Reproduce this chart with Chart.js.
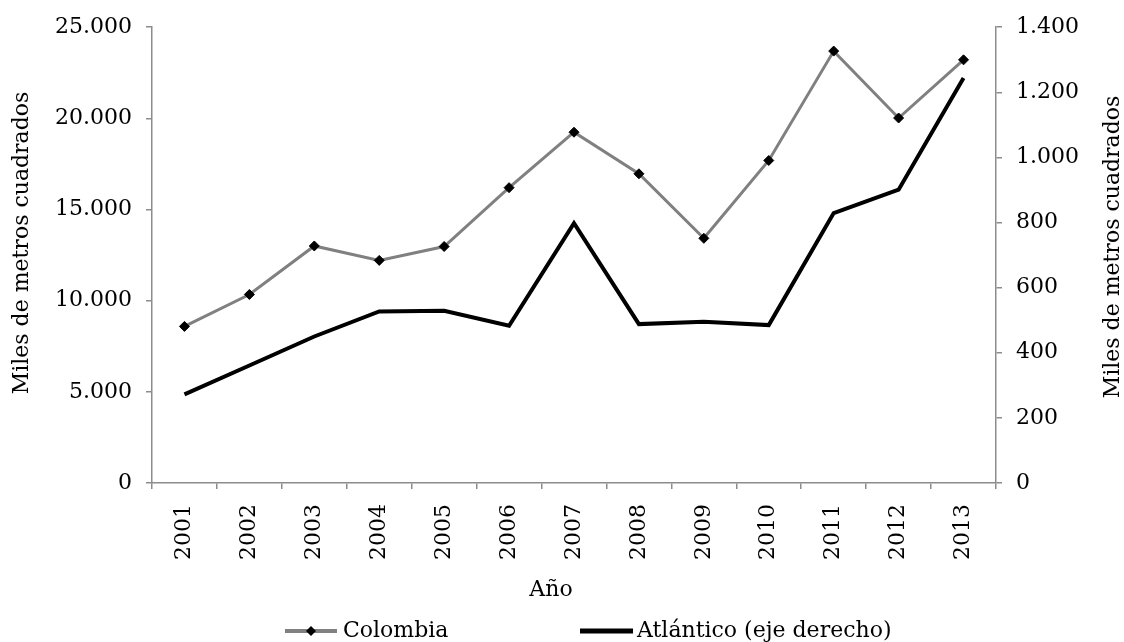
<!DOCTYPE html>
<html>
<head>
<meta charset="utf-8">
<script src="https://cdn.jsdelivr.net/npm/chart.js@4.4.1/dist/chart.umd.min.js"></script>
<style>
  html, body { margin: 0; padding: 0; background: #fff; }
</style>
</head>
<body>
<canvas id="chart" width="1124" height="642"></canvas>
<script>
const years = ['2001', '2002', '2003', '2004', '2005', '2006', '2007', '2008', '2009', '2010', '2011', '2012', '2013'];
const colombia = [8590, 10340, 13000, 12210, 12970, 16200, 19240, 16960, 13420, 17690, 23690, 20020, 23210];
const atlantico = [272, 361, 450, 527, 529, 483, 798, 488, 495, 485, 829, 901, 1244];
const leftTicks = [0, 5000, 10000, 15000, 20000, 25000];
const rightTicks = [0, 200, 400, 600, 800, 1000, 1200, 1400];

const FONT = '"DejaVu Serif", "Liberation Serif", serif';
const axisGrey = '#8c8c8c';

function fmt(v) {
    return String(v).replace(/\B(?=(\d{3})+(?!\d))/g, '.');
}

// titles and legend drawn by hand so they sit where the original has them
const extras = {
    id: 'extras',
    afterDraw(chart) {
        const ctx = chart.ctx;
        ctx.save();
        ctx.fillStyle = '#000';
        ctx.font = '22px ' + FONT;
        ctx.textAlign = 'center';
        ctx.textBaseline = 'middle';

        [[22, 243], [1113, 247]].forEach(([x, y]) => {
            ctx.save();
            ctx.translate(x, y);
            ctx.rotate(-Math.PI / 2);
            ctx.fillText('Miles de metros cuadrados', 0, 0);
            ctx.restore();
        });

        ctx.fillText('Año', 551, 590);

        // legend
        const ly = 631;
        ctx.lineCap = 'butt';
        ctx.strokeStyle = '#808080';
        ctx.lineWidth = 4;
        ctx.beginPath();
        ctx.moveTo(285, ly);
        ctx.lineTo(337, ly);
        ctx.stroke();
        ctx.beginPath();
        ctx.moveTo(311, ly - 5);
        ctx.lineTo(316, ly);
        ctx.lineTo(311, ly + 5);
        ctx.lineTo(306, ly);
        ctx.closePath();
        ctx.fill();

        ctx.strokeStyle = '#000';
        ctx.lineWidth = 5;
        ctx.beginPath();
        ctx.moveTo(580, ly);
        ctx.lineTo(633, ly);
        ctx.stroke();

        ctx.textAlign = 'left';
        ctx.fillText('Colombia', 343, ly);
        ctx.fillText('Atlántico (eje derecho)', 637, ly);
        ctx.restore();
    }
};

new Chart(document.getElementById('chart'), {
    type: 'line',
    data: {
        labels: years,
        datasets: [{
            label: 'Colombia',
            data: colombia,
            yAxisID: 'y',
            borderColor: '#808080',
            borderWidth: 3,
            pointStyle: 'rectRot',
            pointRadius: 5,
            pointBackgroundColor: '#000',
            pointBorderColor: '#000',
            pointBorderWidth: 1,
            tension: 0,
        }, {
            label: 'Atlántico (eje derecho)',
            data: atlantico,
            yAxisID: 'y1',
            borderColor: '#000',
            borderWidth: 4,
            pointRadius: 0,
            tension: 0,
        }],
    },
    options: {
        responsive: false,
        animation: false,
        layout: { padding: { top: 25, left: 0, right: 0, bottom: 0 } },
        plugins: { legend: { display: false }, tooltip: { enabled: false } },
        scales: {
            x: {
                offset: true,
                border: { color: axisGrey, width: 1.5 },
                grid: { offset: true, drawOnChartArea: false, color: axisGrey, tickLength: 6, lineWidth: 1.5 },
                ticks: {
                    color: '#000', font: { family: FONT, size: 22 },
                    minRotation: 90, maxRotation: 90, autoSkip: false, padding: 15,
                },
                afterFit: s => { s.height = 159; },
            },
            y: {
                position: 'left',
                min: leftTicks[0], max: leftTicks[leftTicks.length - 1],
                border: { color: axisGrey, width: 1.5 },
                grid: { drawOnChartArea: false, color: axisGrey, tickLength: 6, lineWidth: 1.5 },
                ticks: {
                    stepSize: leftTicks[1] - leftTicks[0],
                    color: '#000', font: { family: FONT, size: 22 }, padding: 14,
                    callback: v => fmt(v),
                },
                afterFit: s => { s.width = 152; },
            },
            y1: {
                position: 'right',
                min: rightTicks[0], max: rightTicks[rightTicks.length - 1],
                border: { color: axisGrey, width: 1.5 },
                grid: { drawOnChartArea: false, color: axisGrey, tickLength: 6, lineWidth: 1.5 },
                ticks: {
                    stepSize: rightTicks[1] - rightTicks[0],
                    color: '#000', font: { family: FONT, size: 22 }, padding: 14,
                    callback: v => fmt(v),
                },
                afterFit: s => { s.width = 128; },
            },
        },
    },
    plugins: [extras],
});
</script>
</body>
</html>
